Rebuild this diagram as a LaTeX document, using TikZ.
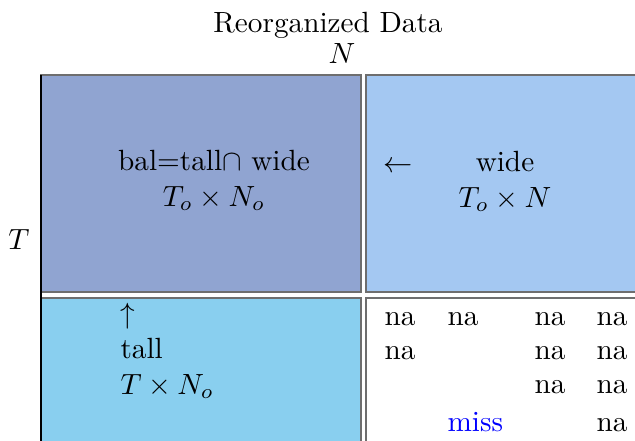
\documentclass[tikz,border=0pt]{standalone}
\usepackage{amsmath,amssymb}
\usepackage{xcolor}
\usetikzlibrary{positioning}

\definecolor{balcol}{RGB}{144,164,209}
\definecolor{widecol}{RGB}{164,200,242}
\definecolor{tallcol}{RGB}{137,207,239}
\definecolor{edgecol}{RGB}{110,110,110}

\begin{document}
\begin{tikzpicture}[x=0.342pt, y=-0.342pt,
  blk/.style={draw=edgecol, line width=0.6pt},
  txt/.style={inner sep=0pt, anchor=base},
  cell/.style={inner sep=0pt, anchor=base west}]
\useasboundingbox (0,0) rectangle (635,440);
\begin{scope}
\clip (0,0) rectangle (635,440);
% the four blocks
\draw[blk, fill=balcol] (41,75) rectangle (361,292);
\draw[blk, fill=widecol] (366,75) rectangle (660,292);
\draw[blk, fill=tallcol] (41,298) rectangle (361,460);
\draw[blk, fill=white] (366,298) rectangle (660,460);
\draw[line width=0.7pt] (41,75) -- (41,460);
\end{scope}
% titles
\node[txt] (title) at (328,32) {Reorganized Data};
\node[txt] (nlab) at (342,63) {$N$};
\node[txt] (tlab) at (19,249) {$T$};
% balanced block
\node[txt, align=center] (bal) at (214,206) {bal=tall$\cap$ wide\\$T_o\times N_o$};
% wide block
\node[txt] (larr) at (398,172) {$\leftarrow$};
\node[txt, align=center] (wide) at (505,207) {wide\\$T_o\times N$};
% tall block
\node[cell, align=left] (tall) at (120,394) {$\uparrow$\\tall\\$T\times N_o$};
% missing part
\node[cell] (m11) at (384,325) {na};
\node[cell] (m12) at (447,325) {na};
\node[cell] (m13) at (534,325) {na};
\node[cell] (m14) at (596,325) {na};
\node[cell] (m21) at (384,359) {na};
\node[cell] (m23) at (534,359) {na};
\node[cell] (m24) at (596,359) {na};
\node[cell] (m33) at (534,393) {na};
\node[cell] (m34) at (596,393) {na};
\node[cell, text=blue] (miss) at (447,431) {miss};
\node[cell] (m44) at (596,431) {na};
\end{tikzpicture}
\end{document}
